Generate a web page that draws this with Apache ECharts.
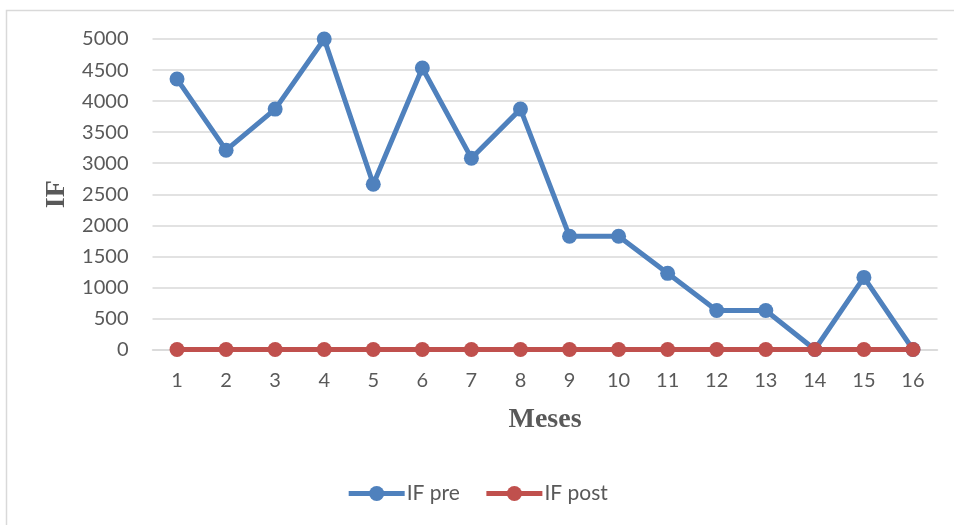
<!DOCTYPE html>
<html>
<head>
<meta charset="utf-8">
<title>IF pre / IF post</title>
<script src="https://cdn.jsdelivr.net/npm/echarts@6/dist/echarts.min.js"></script>
<style>
  html, body { margin: 0; padding: 0; background: #ffffff; }
  #chart { width: 954px; height: 525px; }
</style>
</head>
<body>
<div id="chart"></div>
<script>
// Month numbers along the x axis
const months = ['1', '2', '3', '4', '5', '6', '7', '8', '9', '10', '11', '12', '13', '14', '15', '16'];
// IF values before and after, per month
const ifPre = [4355, 3210, 3871, 5000, 2661, 4532, 3081, 3871, 1823, 1823, 1226, 629, 629, 0, 1161, 0];
const ifPost = [0, 0, 0, 0, 0, 0, 0, 0, 0, 0, 0, 0, 0, 0, 0, 0];
// Y axis range and step
const yMin = 0;
const yMax = 5000;
const yStep = 500;

const labelFont = 'Lato, "Open Sans", sans-serif';
const titleFont = '"Liberation Serif", "Times New Roman", serif';
const textGray = '#595959';
const gridGray = '#d9d9d9';
const bluePre = '#4f81bd';
const redPost = '#c0504d';

const chart = echarts.init(document.getElementById('chart'), null, { renderer: 'canvas' });

chart.setOption({
  backgroundColor: '#ffffff',
  animation: false,
  graphic: [{
    type: 'polyline',
    shape: { points: [[6.5, 525], [6.5, 10.5], [954, 10.5]] },
    style: { stroke: gridGray, lineWidth: 1.5, fill: null },
    silent: true
  }],
  grid: { left: 152.5, right: 16.5, top: 39, bottom: 175.5, containLabel: false },
  legend: {
    bottom: 16,
    left: 'center',
    itemWidth: 56,
    itemHeight: 19,
    itemGap: 24,
    lineStyle: { width: 5 },
    textStyle: { fontFamily: labelFont, fontSize: 21, color: textGray, padding: [0, 0, 0, -3] },
    data: ['IF pre', 'IF post']
  },
  xAxis: {
    type: 'category',
    data: months,
    boundaryGap: true,
    name: 'Meses',
    nameLocation: 'middle',
    nameGap: 56,
    nameTextStyle: { fontFamily: titleFont, fontWeight: 'bold', fontSize: 28, color: textGray },
    axisLine: { show: true, lineStyle: { color: gridGray, width: 1.5 } },
    axisTick: { show: false },
    axisLabel: { fontFamily: labelFont, fontSize: 20, color: textGray, margin: 21 },
    splitLine: { show: false }
  },
  yAxis: {
    type: 'value',
    min: yMin,
    max: yMax,
    interval: yStep,
    name: 'IF',
    nameLocation: 'middle',
    nameGap: 82,
    nameRotate: 90,
    nameTextStyle: { fontFamily: titleFont, fontWeight: 'bold', fontSize: 28, color: textGray },
    axisLine: { show: false },
    axisTick: { show: false },
    axisLabel: {
      fontFamily: labelFont, fontSize: 20, color: textGray, margin: 24,
      formatter: (v) => String(v)
    },
    splitLine: { show: true, lineStyle: { color: gridGray, width: 1.5 } }
  },
  series: [
    {
      name: 'IF pre',
      type: 'line',
      data: ifPre,
      color: bluePre,
      symbol: 'circle',
      symbolSize: 15,
      lineStyle: { width: 5, color: bluePre },
      itemStyle: { color: bluePre },
      z: 2
    },
    {
      name: 'IF post',
      type: 'line',
      data: ifPost,
      color: redPost,
      symbol: 'circle',
      symbolSize: 15,
      lineStyle: { width: 5, color: redPost },
      itemStyle: { color: redPost },
      z: 3
    }
  ]
});
</script>
</body>
</html>
